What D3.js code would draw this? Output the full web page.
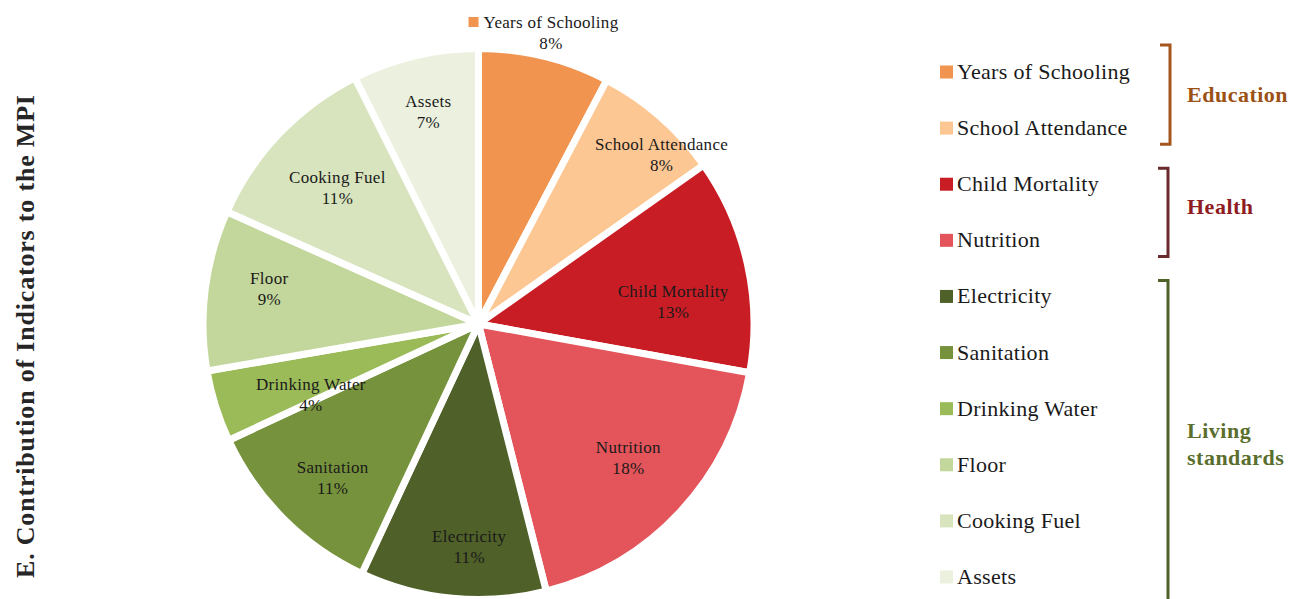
<!DOCTYPE html>
<html>
<head>
<meta charset="utf-8">
<script src="https://cdn.jsdelivr.net/npm/d3@7"></script>
<style>
  html, body { margin: 0; padding: 0; background: #fff; }
  svg { display: block; font-family: "Liberation Serif", "Times New Roman", serif; }
</style>
</head>
<body>
<svg id="chart" width="1293" height="599"></svg>
<script>
// ---- data ----
const categories = ["Years of Schooling", "School Attendance", "Child Mortality", "Nutrition",
  "Electricity", "Sanitation", "Drinking Water", "Floor", "Cooking Fuel", "Assets"];
const values = [7.7, 7.5, 12.6, 18.2, 10.9, 11.1, 4.2, 9.4, 10.9, 7.4];
const colors = ["#F0944F", "#FDC794", "#C91D25", "#E3555A", "#4F6028", "#76923C",
  "#9BBB59", "#C3D69B", "#D7E4BD", "#EBF1DE"];
const groupNames = ["Education", "Health", "Living standards"];
const groupSizes = [2, 2, 6];
const groupColors = ["#A5561F", "#6B2A2C", "#4F6228"];
const groupTextColors = ["#9C5116", "#8E1C22", "#5A6E2E"];
const title = "E. Contribution of Indicators to the MPI";

// label placement style (radius fraction, angular nudge in degrees), mimicking "best fit"
const labelPlacement = {
  "School Attendance": [0.915, 6.1], "Child Mortality": [0.72, 6.1], "Nutrition": [0.74, -1.1],
  "Electricity": [0.82, -3.0], "Sanitation": [0.78, -1.6], "Drinking Water": [0.67, -5.7],
  "Floor": [0.78, 2.4], "Cooking Fuel": [0.72, 0.2], "Assets": [0.80, 0]
};

// ---- layout ----
const svg = d3.select("#chart");
const cx = 478.5, cy = 324, R = 272, gap = 7;
const labelFont = 17, labelSpacing = 0.3;

const data = categories.map((c, i) => ({ name: c, value: values[i], color: colors[i] }));
const pie = d3.pie().sort(null).value(d => d.value);
const arcs = pie(data);
const arc = d3.arc().innerRadius(0).outerRadius(R + gap / 2);

const g = svg.append("g").attr("transform", `translate(${cx},${cy})`);
g.selectAll("path.slice").data(arcs).join("path")
  .attr("class", "slice")
  .attr("d", arc)
  .attr("fill", d => d.data.color)
  .attr("stroke", "#fff")
  .attr("stroke-width", gap)
  .attr("stroke-linejoin", "round");
g.append("circle").attr("r", 7).attr("fill", "#fff");

// slice labels
const fmt = v => Math.round(v) + "%";
arcs.forEach((d, i) => {
  if (i === 0) {
    // outside label above the slice, with legend key
    const lx = 72.5, ly = -R - 18;
    const t = g.append("text").attr("x", lx).attr("y", ly - 6).attr("text-anchor", "middle")
      .attr("font-size", labelFont).attr("letter-spacing", labelSpacing).attr("fill", "#1a1a1a")
      .text(d.data.name);
    const tw = t.node().getComputedTextLength();
    g.append("rect").attr("x", lx - tw / 2 - 15).attr("y", ly - 17).attr("width", 10).attr("height", 10)
      .attr("fill", d.data.color);
    g.append("text").attr("x", lx).attr("y", ly + 15).attr("text-anchor", "middle")
      .attr("font-size", labelFont).attr("letter-spacing", labelSpacing).attr("fill", "#1a1a1a")
      .text(fmt(d.data.value));
  } else {
    const [frac, nudge] = labelPlacement[d.data.name] || [0.77, 0];
    const a = (d.startAngle + d.endAngle) / 2 + nudge * Math.PI / 180;
    const x = Math.sin(a) * R * frac, y = -Math.cos(a) * R * frac;
    const t = g.append("text").attr("text-anchor", "middle").attr("font-size", labelFont)
      .attr("letter-spacing", labelSpacing).attr("fill", "#1a1a1a");
    t.append("tspan").attr("x", x).attr("y", y - 5).text(d.data.name);
    t.append("tspan").attr("x", x).attr("y", y + 16).text(fmt(d.data.value));
  }
});

// ---- legend ----
const ly = d3.scalePoint().domain(categories).range([72, 577]);
const legend = svg.append("g");
categories.forEach((c, i) => {
  legend.append("rect").attr("x", 940).attr("y", ly(c) - 6.5).attr("width", 13).attr("height", 13)
    .attr("fill", colors[i]);
  legend.append("text").attr("x", 957).attr("y", ly(c) + 7).attr("font-size", 22)
    .attr("letter-spacing", 0.3).attr("fill", "#1a1a1a").text(c);
});

// ---- brackets ----
let start = 0;
const step = ly.step();
groupNames.forEach((name, gi) => {
  const first = categories[start], last = categories[start + groupSizes[gi] - 1];
  const top = gi === 0 ? ly(first) - 27 : ly(first) - step / 2 + 12;
  const bottom = gi === groupNames.length - 1 ? 610 : ly(last) + step / 2 - 12;
  const bx = gi === 0 ? 1170 : 1168;
  svg.append("path")
    .attr("d", `M${bx - 10},${top} H${bx} V${bottom} H${bx - 10}`)
    .attr("fill", "none").attr("stroke", groupColors[gi]).attr("stroke-width", 3);
  const rowsMid = (ly(first) + ly(last)) / 2;
  const mid = gi === groupNames.length - 1 ? rowsMid + 8 : rowsMid - 5.5;
  const words = name === "Living standards" ? ["Living", "standards"] : [name];
  const lh = 27;
  const t = svg.append("text").attr("font-size", 22).attr("font-weight", "bold")
    .attr("letter-spacing", 0.5).attr("fill", groupTextColors[gi]);
  words.forEach((w, wi) => {
    t.append("tspan").attr("x", 1187)
      .attr("y", mid - (words.length - 1) * lh / 2 + wi * lh + 7)
      .text(w);
  });
  start += groupSizes[gi];
});

// ---- title ----
svg.append("text")
  .attr("transform", `translate(34,336.5) rotate(-90)`)
  .attr("text-anchor", "middle")
  .attr("font-size", 26).attr("font-weight", "bold").attr("fill", "#262626")
  .attr("textLength", 483).attr("lengthAdjust", "spacing")
  .text(title);
</script>
</body>
</html>
